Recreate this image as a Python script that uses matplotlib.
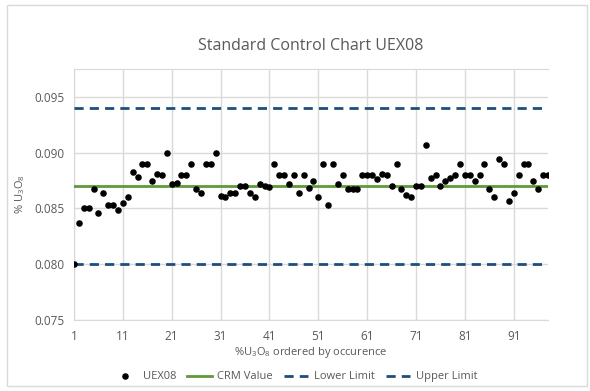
import matplotlib
matplotlib.use('Agg')
import matplotlib.pyplot as plt
from matplotlib.patches import Rectangle
import numpy as np

plt.rcParams['font.family'] = ['Open Sans', 'DejaVu Sans']
plt.rcParams['mathtext.fontset'] = 'custom'
plt.rcParams['mathtext.rm'] = 'Open Sans'
plt.rcParams['mathtext.it'] = 'Open Sans'

# data
uex08 = [0.0800, 0.0837, 0.0850, 0.0850, 0.0867, 0.0846, 0.0864, 0.0853, 0.0853, 0.0849,
         0.0855, 0.0860, 0.0883, 0.0878, 0.0890, 0.0890, 0.0875, 0.0881, 0.0880, 0.0900,
         0.0872, 0.0873, 0.0880, 0.0880, 0.0890, 0.0867, 0.0864, 0.0890, 0.0890, 0.0900,
         0.0861, 0.0860, 0.0864, 0.0864, 0.0870, 0.0870, 0.0864, 0.0860, 0.0872, 0.0870,
         0.0869, 0.0890, 0.0880, 0.0880, 0.0872, 0.0880, 0.0864, 0.0880, 0.0868, 0.0875,
         0.0860, 0.0890, 0.0853, 0.0890, 0.0872, 0.0880, 0.0867, 0.0867, 0.0867, 0.0880,
         0.0880, 0.0880, 0.0876, 0.0881, 0.0880, 0.0870, 0.0890, 0.0867, 0.0862, 0.0860,
         0.0870, 0.0870, 0.0907, 0.0877, 0.0880, 0.0870, 0.0875, 0.0877, 0.0880, 0.0890,
         0.0880, 0.0880, 0.0875, 0.0880, 0.0890, 0.0867, 0.0860, 0.0894, 0.0890, 0.0857,
         0.0864, 0.0880, 0.0890, 0.0890, 0.0875, 0.0867, 0.0880, 0.0880]
crm_value = 0.087
lower_limit = 0.080
upper_limit = 0.094
x_ticks = [1, 11, 21, 31, 41, 51, 61, 71, 81, 91]
y_ticks = [0.075, 0.080, 0.085, 0.090, 0.095]

n = np.arange(1, len(uex08) + 1)

fig = plt.figure(figsize=(5.9, 3.91), dpi=100)
ax = fig.add_axes([0.1254, 0.1816, 0.8034, 0.6419])

grey = '#595959'
grid_c = '#D9D9D9'

ax.plot(n, uex08, 'o', color='black', markersize=3.7, label='UEX08', zorder=4)
ax.plot(n, [crm_value] * len(n), color='#5E9A3A', lw=2, label='CRM Value', zorder=3)
ax.plot(n, [lower_limit] * len(n), color='#1F4E79', lw=2, dashes=(3.3, 2.2),
        label='Lower Limit', zorder=3)
ax.plot(n, [upper_limit] * len(n), color='#1F4E79', lw=2, dashes=(3.3, 2.2),
        label='Upper Limit', zorder=3)

ax.set_xlim(1, len(uex08))
ax.set_ylim(0.075, 0.0975)
ax.set_xticks(x_ticks)
ax.set_yticks(y_ticks)
ax.set_yticklabels(['%.3f' % v for v in y_ticks])
ax.grid(True, color=grid_c, lw=1)
ax.set_axisbelow(True)
ax.tick_params(length=0, labelsize=8.5, colors=grey, pad=7)
for s in ['left', 'bottom', 'top']:
    ax.spines[s].set_color(grid_c)
ax.spines['right'].set_visible(False)

ax.set_title('Standard Control Chart UEX08', fontsize=11.5, color=grey, pad=14)
ax.set_xlabel(r'%U$_3$O$_8$ ordered by occurence', fontsize=8, color=grey, labelpad=2)
ax.set_ylabel(r'% U$_3$O$_8$', fontsize=8, color=grey, labelpad=5)

leg = fig.legend(loc='center', bbox_to_anchor=(0.5, 0.036), ncol=4, frameon=False,
                 fontsize=8, handlelength=2.2, handletextpad=0.5, columnspacing=1.0)
for t in leg.get_texts():
    t.set_color(grey)

fig.add_artist(Rectangle((0.012, 0.012), 0.983, 0.976, transform=fig.transFigure,
                         fill=False, edgecolor=grid_c, lw=1))

fig.savefig('out.png', dpi=100)
